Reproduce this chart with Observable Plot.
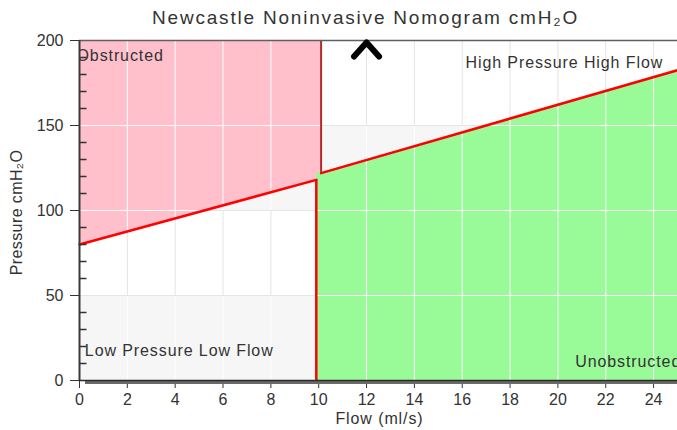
<!DOCTYPE html>
<html>
<head>
<meta charset="utf-8">
<script src="https://cdn.jsdelivr.net/npm/d3@7"></script>
<script src="https://cdn.jsdelivr.net/npm/@observablehq/plot@0.6"></script>
<style>
  html, body { margin: 0; padding: 0; background: #fff; }
  #chart { width: 677px; height: 430px; }
</style>
</head>
<body>
<div id="chart"></div>
<script>
// ---------- data ----------
const flowTicks = [0, 2, 4, 6, 8, 10, 12, 14, 16, 18, 20, 22, 24];
const pressureTicks = [0, 50, 100, 150, 200];
const pressureMinorTicks = [10, 20, 30, 40, 60, 70, 80, 90, 110, 120, 130, 140, 160, 170, 180, 190];
const flowDomain = [0, 25];
const pressureDomain = [0, 200];

// alternating background bands (pressure ranges)
const shadedBands = [{y1: 0, y2: 50}, {y1: 100, y2: 150}];
const plainBands = [{y1: 50, y2: 100}, {y1: 150, y2: 200}];

// zone boundaries
const lowerBoundaryFlow = [0, 9.9];
const lowerBoundaryPressure = [80, 118];
const upperBoundaryFlow = [10.1, 25];
const upperBoundaryPressure = [122, 182.5];

// patient marker (off the top of the chart)
const patientFlow = [12];
const patientPressure = [200];

// zone labels
const zoneLabelText = ["Obstructed", "High Pressure High Flow", "Low Pressure Low Flow", "Unobstructed"];
const zoneLabelFlow = [0, 24.4, 0.35, 20.85];
const zoneLabelPressure = [191, 187, 17.5, 10.8];
const zoneLabelAnchor = ["start", "end", "start", "start"];

const titleText = "Newcastle Noninvasive Nomogram cmH\u2082O";
const xLabelText = "Flow (ml/s)";
const yLabelText = "Pressure cmH\u2082O";

// ---------- derived tables ----------
const lowerLine = lowerBoundaryFlow.map((f, i) => ({flow: f, pressure: lowerBoundaryPressure[i]}));
const upperLine = upperBoundaryFlow.map((f, i) => ({flow: f, pressure: upperBoundaryPressure[i]}));
const interp = (xs, ys, x) => ys[0] + (x - xs[0]) / (xs[1] - xs[0]) * (ys[1] - ys[0]);
const inverse = (xs, ys, y) => xs[0] + (y - ys[0]) / (ys[1] - ys[0]) * (xs[1] - xs[0]);

const splitLow = lowerBoundaryFlow[1];
const splitHigh = upperBoundaryFlow[0];

const obstructedArea = [...lowerLine, {flow: splitHigh, pressure: interp(lowerBoundaryFlow, lowerBoundaryPressure, splitHigh)}];
const unobstructedArea = [{flow: splitLow, pressure: upperBoundaryPressure[0]}, ...upperLine];

const gridFlows = flowTicks.filter(t => t > 0 && (t < splitLow || t > splitHigh));
const gridPressures = pressureTicks.filter(p => p > pressureDomain[0] && p < pressureDomain[1]);

// grey grid segments where a plain (white) band is not covered by a zone
const vSegs = [];
for (const t of gridFlows) for (const b of plainBands) {
  if (t < splitLow) {
    const yb = interp(lowerBoundaryFlow, lowerBoundaryPressure, t);
    const top = Math.min(b.y2, yb);
    if (top > b.y1) vSegs.push({flow: t, y1: b.y1, y2: top});
  } else {
    const yb = interp(upperBoundaryFlow, upperBoundaryPressure, t);
    const bot = Math.max(b.y1, yb);
    if (bot < b.y2) vSegs.push({flow: t, y1: bot, y2: b.y2});
  }
}
const hSegs = [];
for (const p of gridPressures) {
  const xl = Math.max(flowDomain[0], inverse(lowerBoundaryFlow, lowerBoundaryPressure, p));
  if (xl < splitLow) hSegs.push({pressure: p, x1: xl, x2: splitLow});
  const xr = Math.min(flowDomain[1], inverse(upperBoundaryFlow, upperBoundaryPressure, p));
  if (xr > splitHigh) hSegs.push({pressure: p, x1: splitHigh, x2: xr});
}

const zoneLabels = zoneLabelText.map((t, i) => ({text: t, flow: zoneLabelFlow[i], pressure: zoneLabelPressure[i], anchor: zoneLabelAnchor[i]}));
const patient = patientFlow.map((f, i) => ({flow: f, pressure: patientPressure[i]}));

// custom symbols
const chevron = {draw(ctx) { ctx.moveTo(-12.5, 14); ctx.lineTo(0, 0); ctx.lineTo(12.5, 14); }};
const innerTick = {draw(ctx) { ctx.moveTo(0, 0); ctx.lineTo(7, 0); }};

const font = "'Liberation Sans', Arial, Helvetica, sans-serif";
const txt = "#333333";

const chart = Plot.plot({
  width: 677,
  height: 430,
  marginLeft: 79,
  marginRight: 0,
  marginTop: 40,
  marginBottom: 50,
  style: {fontFamily: font, fontSize: "16px", color: txt, background: "#ffffff", overflow: "visible"},
  x: {domain: flowDomain, ticks: flowTicks, tickSize: 8, tickPadding: 5, label: null},
  y: {domain: pressureDomain, ticks: pressureTicks, tickSize: 9, tickPadding: 7, label: null},
  marks: [
    Plot.rect(shadedBands, {x1: flowDomain[0], x2: flowDomain[1], y1: "y1", y2: "y2", fill: "#f6f6f6"}),
    Plot.areaY(obstructedArea, {x: "flow", y1: "pressure", y2: pressureDomain[1], fill: "#ffc0cb"}),
    Plot.areaY(unobstructedArea, {x: "flow", y1: pressureDomain[0], y2: "pressure", fill: "#98fb98"}),
    Plot.ruleX(gridFlows, {y1: pressureDomain[0], y2: pressureDomain[1], stroke: "#ffffff", strokeWidth: 1}),
    Plot.ruleY(gridPressures, {x1: flowDomain[0], x2: flowDomain[1], stroke: "#ffffff", strokeWidth: 1}),
    Plot.ruleX(vSegs, {x: "flow", y1: "y1", y2: "y2", stroke: "#e4e4e4", strokeWidth: 1}),
    Plot.ruleY(hSegs, {y: "pressure", x1: "x1", x2: "x2", stroke: "#e6e6e6", strokeWidth: 1}),
    Plot.ruleX([splitHigh], {y1: upperBoundaryPressure[0], y2: pressureDomain[1], stroke: "#b22a2a", strokeWidth: 2}),
    Plot.line(lowerLine, {x: "flow", y: "pressure", stroke: "#ff0000", strokeWidth: 2.5}),
    Plot.ruleX([splitLow], {y1: pressureDomain[0], y2: lowerBoundaryPressure[1], stroke: "#ff0000", strokeWidth: 2.5}),
    Plot.line(upperLine, {x: "flow", y: "pressure", stroke: "#ff0000", strokeWidth: 2.5}),
    Plot.text(zoneLabels.filter(d => d.anchor === "start"), {x: "flow", y: "pressure", text: "text", textAnchor: "start", fill: txt, fontSize: 16, clip: true, dx: -3}),
    Plot.text(zoneLabels.filter(d => d.anchor === "end"), {x: "flow", y: "pressure", text: "text", textAnchor: "end", fill: txt, fontSize: 16}),
    Plot.ruleY([pressureDomain[1]], {stroke: "#606060", strokeWidth: 1.5}),
    Plot.ruleY([pressureDomain[0]], {stroke: "#6a6a6a", strokeWidth: 3, dy: 2, dx: 6}),
    Plot.ruleY([pressureDomain[0]], {stroke: "#2a2a2a", strokeWidth: 1.5}),
    Plot.ruleX([flowDomain[0]], {y1: pressureDomain[0], y2: pressureDomain[1], stroke: "#3a3a3a", strokeWidth: 2}),
    Plot.dot(pressureMinorTicks, {x: () => flowDomain[0], y: d => d, symbol: innerTick, stroke: "#333", strokeWidth: 1.5, fill: "none"}),
    Plot.dot(patient, {x: "flow", y: "pressure", symbol: chevron, stroke: "#000000", strokeWidth: 6, fill: "none", strokeLinecap: "round", strokeLinejoin: "round", dy: 2}),
    Plot.text([titleText], {frameAnchor: "top", lineAnchor: "middle", textAnchor: "middle", dy: -23, dx: -13, fill: txt, fontSize: 19}),
    Plot.text([xLabelText], {frameAnchor: "bottom", lineAnchor: "middle", textAnchor: "middle", dy: 38, dx: 1, fill: txt, fontSize: 16}),
    Plot.text([yLabelText], {frameAnchor: "left", lineAnchor: "middle", textAnchor: "middle", dx: -63, dy: 2, rotate: -90, fill: txt, fontSize: 16})
  ]
});

const spacing = new Map([
  [titleText, "1.8px"], [xLabelText, "0.9px"], [yLabelText, "0.4px"],
  ["Obstructed", "0.9px"], ["High Pressure High Flow", "0.9px"], ["Low Pressure Low Flow", "0.9px"], ["Unobstructed", "0.9px"]
]);
d3.select(chart).selectAll("text").each(function() {
  const s = spacing.get(this.textContent);
  if (s) this.style.letterSpacing = s;
});
document.getElementById("chart").appendChild(chart);
</script>
</body>
</html>
